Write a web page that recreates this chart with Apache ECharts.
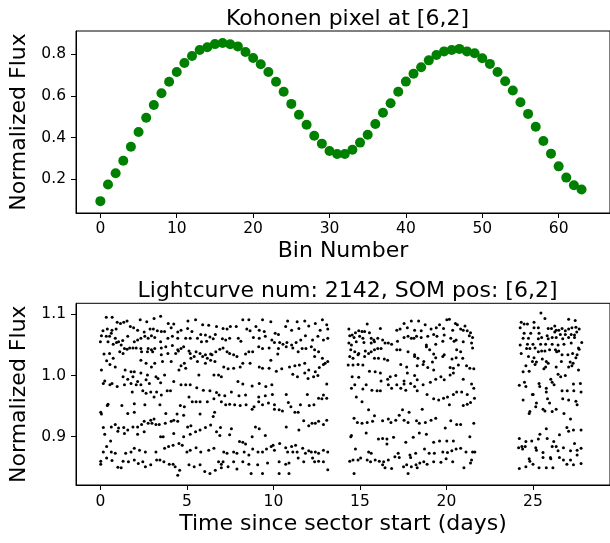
<!DOCTYPE html>
<html>
<head>
<meta charset="utf-8">
<script src="https://cdn.jsdelivr.net/npm/echarts@6/dist/echarts.min.js"></script>
<style>
  html, body { margin: 0; padding: 0; background: #ffffff; }
  #chart { width: 610px; height: 543px; }
</style>
</head>
<body>
<div id="chart"></div>
<script>
// ---- Kohonen prototype (64 bins) ----
const binNumbers = [
  0, 1, 2, 3, 4, 5, 6, 7, 8, 9, 10, 11, 12, 13, 14, 15,
  16, 17, 18, 19, 20, 21, 22, 23, 24, 25, 26, 27, 28, 29, 30, 31,
  32, 33, 34, 35, 36, 37, 38, 39, 40, 41, 42, 43, 44, 45, 46, 47,
  48, 49, 50, 51, 52, 53, 54, 55, 56, 57, 58, 59, 60, 61, 62, 63
];
const kohonenFlux = [
  0.095, 0.175, 0.229, 0.289, 0.356, 0.427, 0.495, 0.557, 0.613, 0.668, 0.715, 0.758, 0.792, 0.821, 0.834, 0.849,
  0.854, 0.848, 0.838, 0.811, 0.782, 0.752, 0.715, 0.668, 0.620, 0.562, 0.510, 0.462, 0.409, 0.371, 0.336, 0.321,
  0.321, 0.342, 0.376, 0.414, 0.465, 0.519, 0.565, 0.620, 0.669, 0.707, 0.738, 0.771, 0.797, 0.814, 0.821, 0.826,
  0.814, 0.805, 0.781, 0.754, 0.715, 0.671, 0.626, 0.570, 0.514, 0.452, 0.384, 0.323, 0.262, 0.208, 0.171, 0.151
];

// ---- Light curve, orbit 1 (days 0 - 13.2) ----
const orbit1 = [
  [0.34,1.095],[0.68,1.095],[2.30,1.091],[2.68,1.088],[3.10,1.093],[3.48,1.097],[3.92,1.085],[4.24,1.084],
  [5.06,1.089],[5.50,1.091],[5.91,1.083],[6.26,1.082],[0.97,1.087],[1.16,1.085],[1.35,1.087],[1.54,1.089],
  [0.15,1.073],[0.40,1.076],[0.67,1.074],[0.91,1.076],[1.73,1.080],[1.92,1.078],[2.15,1.074],[2.53,1.071],
  [2.87,1.076],[3.06,1.076],[3.29,1.073],[3.52,1.072],[3.71,1.072],[4.09,1.078],[4.47,1.071],[4.66,1.074],
  [5.04,1.077],[5.29,1.072],[5.80,1.067],[6.07,1.066],[6.33,1.063],[6.64,1.067],
  [0.06,1.065],[0.34,1.064],[0.53,1.064],[0.63,1.069],[0.86,1.061],[1.05,1.055],[1.29,1.057],[1.58,1.064],
  [1.96,1.055],[2.15,1.058],[2.34,1.061],[2.57,1.064],[2.76,1.061],[2.95,1.065],[3.14,1.062],[3.48,1.055],
  [3.90,1.061],[4.16,1.064],[4.47,1.061],[4.93,1.061],[5.19,1.061],[5.61,1.061],[5.84,1.055],[6.14,1.056],[6.52,1.060],
  [0.00,1.055],[0.44,1.055],[0.74,1.051],[0.93,1.054],[1.20,1.050],[1.39,1.044],[1.69,1.045],[1.88,1.045],
  [2.07,1.045],[2.34,1.044],[2.76,1.044],[2.95,1.042],[3.14,1.044],[3.52,1.045],[3.78,1.047],[4.16,1.049],
  [4.47,1.042],[4.66,1.044],[4.81,1.047],[5.12,1.040],[5.53,1.039],[5.76,1.036],[6.07,1.034],[6.37,1.035],[6.67,1.039],
  [0.21,1.035],[0.53,1.036],[0.74,1.028],[1.12,1.039],[1.31,1.036],[1.54,1.043],[2.38,1.039],[2.72,1.039],
  [3.02,1.039],[3.52,1.034],[3.90,1.036],[4.35,1.036],[4.51,1.040],[5.19,1.036],[5.42,1.031],[5.91,1.031],
  [6.18,1.028],[6.45,1.034],
  [0.36,1.024],[0.55,1.018],[0.86,1.014],[2.34,1.025],[2.64,1.020],[2.95,1.014],[3.14,1.020],[3.59,1.023],
  [4.09,1.023],[4.66,1.016],[4.85,1.020],[5.23,1.028],[5.61,1.023],[6.07,1.020],[6.37,1.025],
  [0.06,1.009],[1.43,1.009],[1.77,1.006],[1.96,1.006],[2.34,1.004],[2.72,1.001],[3.21,0.998],[3.71,1.001],
  [4.54,1.009],[4.93,1.012],[5.69,1.001],[6.56,1.001],[6.83,1.001],
  [0.25,0.991],[0.17,0.987],[0.55,0.985],[0.67,0.987],[0.97,0.982],[1.31,0.998],[1.58,0.994],[1.88,0.998],
  [2.15,0.990],[2.64,0.993],[2.83,0.987],[3.33,0.995],[3.48,0.988],[4.24,0.990],[4.66,0.985],[4.93,0.985],
  [5.19,0.985],[5.57,0.980],[5.95,0.976],[6.33,0.975],[6.71,0.972],[1.39,0.985],[1.77,0.987],[2.07,0.985],[2.34,0.985],
  [2.45,0.975],[2.64,0.971],[2.91,0.973],[3.25,0.973],[3.52,0.968],[3.86,0.975],[4.05,0.975],[1.84,0.973],
  [5.12,0.965],[5.31,0.957],[5.53,0.957],[5.76,0.957],[6.18,0.957],[6.56,0.962],[4.62,0.951],[4.85,0.949],[3.10,0.965],
  [0.44,0.953],[0.40,0.951],[1.24,0.951],[1.96,0.954],[2.57,0.952],
  [0.02,0.940],[0.06,0.937],[1.58,0.938],[1.96,0.940],[3.44,0.952],[3.78,0.938],[4.43,0.937],[4.81,0.935],
  [5.76,0.937],[6.60,0.940],[6.52,0.933],[2.91,0.927],[3.10,0.929],[2.53,0.925],[4.09,0.925],[4.24,0.927],[4.47,0.925],
  [0.17,0.915],[0.63,0.916],[0.86,0.920],[1.05,0.914],[1.35,0.915],[1.58,0.911],[1.88,0.916],[2.15,0.916],
  [2.38,0.920],[2.76,0.922],[2.98,0.922],[3.21,0.920],[3.40,0.920],[3.75,0.922],[5.04,0.916],[5.23,0.918],
  [5.76,0.911],[6.07,0.915],[6.37,0.919],
  [0.25,0.904],[1.01,0.909],[1.39,0.905],[2.15,0.904],[2.53,0.908],[3.48,0.900],[3.63,0.900],[4.24,0.905],
  [4.81,0.900],[5.19,0.904],[5.50,0.908],[6.71,0.908],[0.59,0.893],
  [0.36,0.884],[0.17,0.875],[0.63,0.875],[0.86,0.873],[1.46,0.873],[1.77,0.875],[1.96,0.881],[2.26,0.878],
  [2.60,0.875],[3.21,0.875],[3.71,0.881],[3.94,0.884],[4.20,0.886],[4.54,0.889],[4.73,0.886],[5.00,0.875],
  [5.19,0.878],[5.53,0.882],[5.80,0.875],[6.26,0.878],[6.56,0.881],
  [0.02,0.860],[0.02,0.855],[0.36,0.865],[0.67,0.861],[1.01,0.850],[1.20,0.849],[1.31,0.860],[1.62,0.859],
  [1.96,0.862],[2.19,0.856],[2.45,0.859],[2.60,0.851],[2.91,0.854],[3.25,0.862],[3.44,0.862],[3.67,0.859],
  [3.98,0.855],[4.20,0.855],[4.32,0.851],[4.58,0.845],[4.47,0.837],[5.12,0.854],[5.42,0.851],[5.76,0.854],
  [6.03,0.843],[6.33,0.840],[6.64,0.845],[6.83,0.859],
  [8.23,1.091],[8.58,1.091],[9.37,1.091],[9.85,1.088],[10.82,1.089],[11.37,1.088],[11.81,1.089],[12.42,1.085],
  [12.83,1.091],[13.08,1.083],
  [6.71,1.080],[7.09,1.077],[7.32,1.076],[7.51,1.080],[7.85,1.080],[8.46,1.076],[8.65,1.073],[8.99,1.080],
  [9.18,1.074],[9.47,1.072],[10.10,1.069],[10.29,1.067],[10.71,1.080],[11.05,1.074],[11.47,1.077],[12.04,1.081],
  [12.70,1.074],[13.14,1.076],
  [7.05,1.060],[7.24,1.058],[7.47,1.061],[7.97,1.061],[8.12,1.056],[8.84,1.062],[9.18,1.061],[9.53,1.064],
  [9.91,1.058],[10.06,1.054],[10.36,1.054],[10.55,1.051],[10.78,1.054],[11.05,1.050],[11.31,1.054],[11.58,1.058],
  [11.85,1.065],[12.26,1.058],[12.57,1.064],[12.89,1.058],[13.14,1.061],
  [6.90,1.043],[7.09,1.045],[7.32,1.039],[7.47,1.036],[7.70,1.034],[7.89,1.031],[8.39,1.035],[8.58,1.039],
  [8.80,1.039],[9.15,1.047],[9.37,1.044],[9.75,1.045],[10.29,1.044],[10.25,1.035],[10.74,1.047],[11.12,1.045],
  [11.43,1.039],[11.66,1.044],[11.88,1.044],[12.19,1.047],[12.38,1.042],[12.61,1.039],[12.38,1.031],[12.83,1.028],
  [12.99,1.020],[13.14,1.023],
  [6.62,1.023],[7.13,1.014],[7.38,1.011],[7.70,1.012],[8.08,1.014],[8.23,1.020],[8.65,1.020],[9.18,1.014],
  [9.37,1.012],[9.75,1.012],[9.85,1.025],[10.17,1.007],[10.48,1.011],[10.93,1.014],[11.24,1.016],[11.50,1.017],
  [11.81,1.020],[12.04,1.009],[12.42,1.006],[12.65,1.013],[12.89,1.018],
  [6.99,0.998],[7.95,0.990],[8.23,0.986],[8.77,0.983],[9.18,0.987],[9.56,0.982],[9.91,0.985],[11.12,1.002],
  [11.39,0.998],[11.81,1.004],[12.00,0.995],[12.32,0.998],[12.57,1.000],[13.08,0.986],
  [6.86,0.968],[7.19,0.967],[7.57,0.973],[8.01,0.967],[8.39,0.968],[9.15,0.965],[9.53,0.967],[9.94,0.969],
  [10.74,0.969],[11.96,0.969],[12.61,0.963],[12.89,0.968],[13.08,0.963],
  [6.99,0.957],[7.24,0.952],[7.47,0.953],[7.76,0.952],[8.08,0.951],[8.42,0.952],[8.77,0.945],[9.15,0.957],
  [9.37,0.952],[9.71,0.955],[10.06,0.952],[10.33,0.944],[10.52,0.942],[10.86,0.956],[11.01,0.949],[11.24,0.940],
  [11.43,0.940],[11.56,0.952],[12.07,0.951],[12.34,0.952],[12.80,0.962],[8.88,0.949],[10.06,0.945],
  [10.74,0.916],[11.75,0.926],[12.23,0.922],[12.61,0.925],[12.89,0.920],[13.08,0.927],[11.47,0.911],[12.04,0.918],
  [12.42,0.922],[8.96,0.916],[9.18,0.913],[6.94,0.915],[7.57,0.913],
  [6.90,0.902],[7.47,0.903],[8.04,0.892],[8.23,0.891],[8.39,0.888],[8.77,0.900],[9.53,0.902],[9.98,0.886],
  [10.36,0.889],[10.71,0.882],[11.05,0.884],[11.28,0.886],[11.69,0.881],[12.04,0.877],[12.42,0.875],[12.89,0.878],
  [13.14,0.875],
  [7.13,0.875],[7.32,0.873],[7.70,0.875],[7.89,0.873],[8.31,0.875],[8.58,0.870],[8.80,0.880],[9.11,0.875],
  [9.37,0.875],[9.60,0.880],[9.87,0.884],[10.06,0.878],[10.82,0.875],[11.12,0.875],[11.37,0.875],[11.85,0.873],
  [12.19,0.875],[12.61,0.873],
  [6.99,0.855],[7.09,0.859],[7.70,0.859],[8.23,0.859],[8.58,0.855],[9.09,0.854],[9.66,0.857],[10.33,0.859],
  [10.71,0.855],[10.90,0.857],[11.43,0.865],[11.75,0.859],[12.26,0.865],[12.61,0.860],[12.89,0.859],[6.99,0.849],
  [7.38,0.851],[7.89,0.847],[8.71,0.840],[9.37,0.840],[10.33,0.840],[10.90,0.840],[12.38,0.859],[13.14,0.846]
];

// ---- Light curve, orbit 2 (days 14.3 - 21.7) ----
const orbit2 = [
  [15.42,1.084],[16.18,1.077],[17.55,1.085],[17.97,1.089],[18.39,1.089],[18.77,1.083],[19.41,1.078],[20.02,1.091],
  [20.17,1.092],[20.52,1.085],[21.07,1.081],
  [14.36,1.076],[14.55,1.066],[14.74,1.070],[14.93,1.073],[15.12,1.072],[15.27,1.072],[15.55,1.070],[17.13,1.074],
  [17.32,1.076],[17.74,1.078],[18.16,1.074],[18.54,1.073],[19.11,1.076],[19.60,1.083],[19.83,1.077],[20.36,1.074],
  [20.63,1.083],[20.82,1.076],[20.97,1.074],[21.20,1.073],[21.39,1.070],
  [14.41,1.065],[14.66,1.062],[14.98,1.064],[15.17,1.061],[15.65,1.061],[15.80,1.058],[16.03,1.061],[16.45,1.053],
  [16.64,1.053],[16.83,1.051],[17.55,1.062],[17.78,1.064],[17.97,1.061],[18.27,1.064],[18.54,1.062],[18.92,1.064],
  [19.26,1.067],[19.45,1.064],[19.87,1.066],[20.25,1.061],[20.56,1.058],[21.32,1.065],[21.51,1.062],
  [14.36,1.053],[14.51,1.050],[14.79,1.055],[15.23,1.054],[15.65,1.053],[15.84,1.055],[16.31,1.058],[17.17,1.056],
  [18.12,1.061],[18.84,1.050],[19.38,1.051],[19.79,1.056],[20.44,1.056],[20.97,1.055],[21.45,1.053],
  [14.47,1.042],[14.70,1.039],[14.93,1.036],[15.31,1.040],[15.50,1.036],[15.65,1.039],[15.84,1.042],[16.03,1.044],
  [16.22,1.044],[17.13,1.042],[17.32,1.042],[17.78,1.039],[18.16,1.034],[18.35,1.028],[18.84,1.047],[19.03,1.042],
  [19.26,1.035],[19.87,1.034],[20.59,1.042],[20.82,1.039],[21.51,1.045],
  [14.41,1.031],[14.60,1.028],[14.89,1.034],[15.27,1.031],[15.84,1.028],[16.07,1.028],[16.41,1.027],[16.60,1.025],
  [18.16,1.031],[18.69,1.023],[19.19,1.022],[19.38,1.029],[19.79,1.031],[20.32,1.027],[20.56,1.029],[20.69,1.017],
  [20.94,1.028],[21.16,1.016],[21.35,1.012],[21.58,1.011],
  [14.32,1.017],[14.60,1.017],[14.89,1.018],[15.17,1.017],[15.55,1.007],[15.88,1.006],[16.18,1.004],[17.36,1.018],
  [17.70,1.014],[18.31,1.016],[18.65,1.018],[18.92,1.013],[19.26,1.009],[20.21,1.013],[20.40,1.012],
  [14.55,0.998],[14.93,0.997],[16.60,0.994],[16.75,0.998],[17.07,1.000],[17.55,0.991],[17.74,1.004],[18.16,1.000],
  [18.31,0.993],[19.07,0.989],[19.38,0.994],[19.68,0.998],[19.87,0.993],[20.21,1.001],[20.40,1.004],[20.97,0.994],
  [21.45,0.986],[16.22,0.991],
  [14.51,0.979],[14.70,0.985],[15.17,0.978],[15.36,0.985],[15.69,0.976],[15.99,0.975],[16.18,0.975],[16.64,0.985],
  [16.83,0.979],[17.13,0.985],[17.36,0.979],[17.65,0.976],[17.93,0.987],[18.16,0.982],[18.65,0.985],[18.88,0.969],
  [19.26,0.962],[19.55,0.960],[19.83,0.963],[20.06,0.965],[20.40,0.969],[20.59,0.973],[20.88,0.973],[21.20,0.969],
  [21.58,0.979],[20.97,0.951],[21.20,0.953],[21.39,0.956],[21.62,0.963],
  [14.79,0.965],[15.12,0.957],[18.31,0.975],[17.55,0.986],
  [15.50,0.944],[17.46,0.944],[17.84,0.940],[18.60,0.945],[20.17,0.952],
  [14.66,0.930],[14.85,0.923],[15.12,0.922],[15.42,0.923],[15.73,0.925],[15.84,0.934],[16.31,0.926],[16.64,0.929],
  [16.79,0.923],[17.07,0.927],[17.27,0.935],[17.55,0.927],[17.78,0.923],[18.27,0.926],[18.43,0.922],[18.78,0.923],
  [19.11,0.927],[19.38,0.930],[19.93,0.914],[20.25,0.926],[20.59,0.920],[20.82,0.920],[21.58,0.922],
  [14.47,0.900],[14.51,0.902],[15.36,0.906],[16.07,0.896],[16.31,0.897],[16.56,0.896],[16.94,0.899],[17.65,0.891],
  [18.08,0.899],[18.43,0.906],[18.84,0.904],[19.26,0.891],[19.60,0.893],[20.02,0.893],[20.40,0.893],[21.35,0.900],
  [14.74,0.880],[15.50,0.875],[15.65,0.873],[16.56,0.888],[17.21,0.873],[17.89,0.870],[18.73,0.880],[19.00,0.873],
  [19.30,0.873],[19.79,0.875],[20.06,0.874],[20.31,0.877],[20.56,0.880],[20.82,0.881],[21.13,0.875],[21.51,0.875],
  [21.64,0.875],[17.93,0.866],[18.22,0.873],
  [14.41,0.860],[14.60,0.862],[14.89,0.862],[15.04,0.865],[15.42,0.862],[15.61,0.859],[15.88,0.862],[16.12,0.860],
  [16.37,0.859],[16.64,0.862],[17.02,0.867],[17.27,0.866],[17.52,0.851],[17.70,0.854],[17.97,0.851],[18.24,0.854],
  [18.46,0.857],[18.69,0.859],[18.88,0.855],[19.26,0.859],[19.68,0.858],[19.98,0.864],[20.36,0.859],[21.01,0.849],
  [21.39,0.857],[21.45,0.862],[16.45,0.849],[16.83,0.848],[14.66,0.840],[17.78,0.840],[16.31,0.854],[18.31,0.849]
];

// ---- Light curve, orbit 2 tail (days 24.2 - 27.8) ----
const orbit3 = [
  [25.46,1.102],[25.69,1.093],[24.32,1.087],[24.49,1.084],[24.68,1.084],[25.06,1.087],[27.06,1.092],[27.44,1.090],
  [24.26,1.078],[25.06,1.078],[25.31,1.078],[25.88,1.077],[26.07,1.077],[26.26,1.081],[26.34,1.074],[26.49,1.074],
  [26.68,1.077],[26.87,1.073],[27.06,1.076],[27.25,1.078],[27.48,1.079],[27.67,1.076],
  [24.49,1.069],[24.87,1.069],[25.35,1.069],[25.82,1.065],[26.26,1.071],[26.58,1.067],[26.87,1.067],[27.21,1.067],
  [27.40,1.066],[27.53,1.071],
  [24.43,1.061],[24.74,1.061],[25.31,1.060],[25.50,1.062],[25.88,1.060],[26.11,1.062],[26.34,1.062],[26.72,1.060],
  [27.06,1.062],[27.40,1.062],[27.82,1.054],
  [24.26,1.050],[24.68,1.051],[25.00,1.051],[25.44,1.051],[25.73,1.051],[26.11,1.051],[26.45,1.050],[26.79,1.051],
  [27.21,1.053],[27.67,1.043],[27.63,1.045],
  [24.32,1.036],[24.63,1.044],[24.82,1.044],[25.12,1.045],[25.31,1.039],[25.50,1.040],[25.69,1.040],[25.96,1.042],
  [26.30,1.042],[26.37,1.039],[26.49,1.040],[26.68,1.034],[27.02,1.034],[27.29,1.036],[27.55,1.034],
  [24.74,1.031],[25.06,1.029],[25.54,1.027],[25.77,1.023],[24.97,1.023],[25.20,1.022],[27.48,1.029],[27.15,1.022],
  [26.64,1.023],[25.88,1.020],[27.32,1.020],
  [24.59,1.016],[24.43,1.006],[24.78,1.007],[25.12,1.018],[25.63,1.011],[25.73,1.014],[26.34,1.014],[27.06,1.014],
  [27.25,1.016],[27.63,1.009],
  [26.45,1.002],[26.60,0.998],[26.87,1.000],[26.03,0.994],[26.11,0.989],[26.22,0.985],[24.51,0.989],[24.59,0.982],
  [24.21,0.984],[25.35,0.987],[25.39,0.982],[25.77,0.979],[26.68,0.975],[26.98,0.975],[27.36,0.975],[27.78,0.973],
  [27.34,0.986],[27.74,0.987],
  [24.97,0.969],[25.01,0.969],[25.77,0.973],[25.84,0.962],[24.43,0.960],[25.20,0.955],[25.16,0.949],[25.96,0.955],
  [26.72,0.962],[27.06,0.960],[27.48,0.958],[27.55,0.952],[25.58,0.945],[25.69,0.942],[26.11,0.941],[26.34,0.945],
  [26.79,0.938],[24.82,0.941],[24.78,0.938],[27.17,0.929],
  [25.77,0.913],[26.96,0.915],[27.34,0.911],[27.78,0.911],[27.06,0.909],[26.53,0.903],[25.40,0.904],[24.21,0.897],
  [24.59,0.892],[24.93,0.893],[25.31,0.896],[25.82,0.897],[26.20,0.892],[27.40,0.889],
  [24.17,0.882],[24.40,0.880],[24.55,0.884],[24.36,0.884],[25.16,0.882],[25.20,0.878],[25.58,0.874],[26.11,0.884],
  [26.34,0.884],[26.45,0.877],[26.76,0.882],[27.17,0.877],[27.55,0.878],[27.78,0.881],[26.01,0.866],[26.03,0.864],
  [25.58,0.866],[24.78,0.864],[24.82,0.860],[26.53,0.866],[26.76,0.862],[27.17,0.862],[27.55,0.870],
  [24.21,0.848],[24.59,0.851],[25.00,0.855],[25.35,0.849],[25.77,0.849],[26.15,0.849],[26.96,0.855],[27.34,0.854],
  [27.78,0.856]
];

// ---- Axis ticks ----
const binTicks = [0, 10, 20, 30, 40, 50, 60];
const kohonenFluxTicks = [0.2, 0.4, 0.6, 0.8];
const dayTicks = [0, 5, 10, 15, 20, 25];
const lightcurveFluxTicks = [0.9, 1.0, 1.1];

const FONT = 'DejaVu Sans';
const INK = '#000000';

function valueAxis(gridIndex, min, max, ticks, name, nameGap, labelMargin, isY) {
  return {
    type: 'value',
    gridIndex: gridIndex,
    min: min,
    max: max,
    name: name,
    nameLocation: 'middle',
    nameGap: nameGap,
    nameTextStyle: { fontFamily: FONT, fontSize: 22, color: INK },
    axisLine: { show: true, onZero: false, lineStyle: { color: INK, width: 1 } },
    axisTick: {
      show: true, inside: false, length: 5,
      lineStyle: { color: INK, width: 1 },
      customValues: ticks
    },
    axisLabel: {
      show: true,
      margin: labelMargin,
      fontFamily: FONT,
      fontSize: 15.5,
      color: INK,
      customValues: ticks,
      formatter: isY ? (v) => v.toFixed(1) : (v) => String(v)
    },
    splitLine: { show: false }
  };
}

const chart = echarts.init(document.getElementById('chart'), null, { renderer: 'canvas' });

// Both panels share the same left edge; the frames run past the right edge of the page.
const PLOT_LEFT = 74.3;
const PLOT_WIDTH = 541;

chart.setOption({
  animation: false,
  backgroundColor: '#ffffff',
  title: [
    {
      text: 'Kohonen pixel at [6,2]',
      left: 342.5, top: 3, textAlign: 'center',
      textStyle: { fontFamily: FONT, fontSize: 22, fontWeight: 'normal', color: INK }
    },
    {
      text: 'Lightcurve num: 2142, SOM pos: [6,2]',
      left: 342.5, top: 275, textAlign: 'center',
      textStyle: { fontFamily: FONT, fontSize: 22, fontWeight: 'normal', color: INK }
    }
  ],
  grid: [
    { left: PLOT_LEFT, top: 31, width: PLOT_WIDTH, height: 182, show: true, borderColor: INK, borderWidth: 1, backgroundColor: 'transparent' },
    { left: PLOT_LEFT, top: 303.3, width: PLOT_WIDTH, height: 181.7, show: true, borderColor: INK, borderWidth: 1, backgroundColor: 'transparent' }
  ],
  xAxis: [
    valueAxis(0, -3.19, -3.19 + PLOT_WIDTH / 7.738, binTicks, 'Bin Number', 27, 8, false),
    valueAxis(1, -1.41, -1.41 + PLOT_WIDTH / 17.53, dayTicks, 'Time since sector start (days)', 28, 9, false)
  ],
  yAxis: [
    valueAxis(0, 0.038, 0.912, kohonenFluxTicks, 'Normalized Flux', 46, 10, true),
    valueAxis(1, 0.821, 1.118, lightcurveFluxTicks, 'Normalized Flux', 46, 10, true)
  ],
  series: [
    {
      type: 'scatter',
      xAxisIndex: 0, yAxisIndex: 0,
      symbol: 'circle',
      symbolSize: 10,
      itemStyle: { color: '#008000', opacity: 1 },
      data: binNumbers.map((b, i) => [b, kohonenFlux[i]])
    },
    {
      type: 'scatter',
      xAxisIndex: 1, yAxisIndex: 1,
      symbol: 'circle',
      symbolSize: 3,
      itemStyle: { color: INK, opacity: 1 },
      data: orbit1.concat(orbit2, orbit3)
    }
  ]
});
</script>
</body>
</html>
